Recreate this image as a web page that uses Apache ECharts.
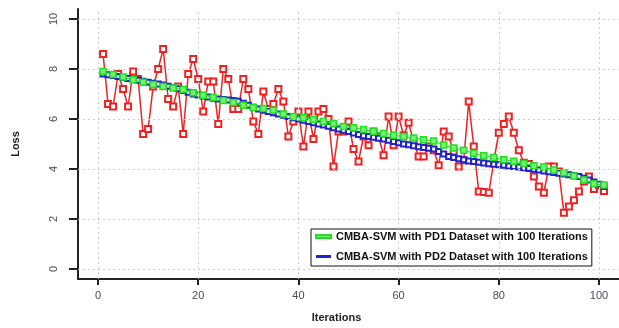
<!DOCTYPE html>
<html>
<head>
<meta charset="utf-8">
<script src="https://cdn.jsdelivr.net/npm/echarts@6/dist/echarts.min.js"></script>
<style>html,body{margin:0;padding:0;background:#fff}#c{width:619px;height:328px}</style>
</head>
<body>
<div id="c"></div>
<script>
// ---- data ----
const xTicks = [0, 20, 40, 60, 80, 100];
const yTicks = [0, 2, 4, 6, 8, 10];

const redIter = [1,2,3,4,5,6,7,8,9,10,11,12,13,14,15,16,17,18,19,20,21,22,23,24,25,26,27,28,29,30,31,32,33,34,35,36,37,38,39,40,41,42,43,44,45,46,47,48,49,50,51,52,53,54,55,56,57,58,59,60,61,62,63,64,65,66,67,68,69,70,71,72,73,74,75,76,77,78,79,80,81,82,83,84,85,86,87,88,89,90,91,92,93,94,95,96,97,98,99,100,101];
const redLoss = [8.6,6.6,6.5,7.8,7.2,6.5,7.9,7.6,5.4,5.6,7.3,8.0,8.8,6.8,6.5,7.3,5.4,7.8,8.4,7.6,6.3,7.5,7.5,5.8,8.0,7.6,6.4,6.4,7.6,7.2,5.9,5.4,7.1,6.4,6.6,7.2,6.7,5.3,5.9,6.3,4.9,6.3,5.2,6.3,6.4,6.0,4.1,5.5,5.5,5.9,4.8,4.3,5.3,4.95,5.5,5.3,4.55,6.1,4.95,6.1,5.35,5.85,5.1,4.5,4.5,4.9,4.75,4.15,5.5,5.3,4.7,4.1,4.35,6.7,4.9,3.1,3.08,3.05,4.3,5.45,5.8,6.1,5.45,4.75,4.25,4.2,3.7,3.3,3.05,4.1,4.1,3.9,2.25,2.5,2.75,3.1,3.5,3.7,3.2,3.35,3.12];

const greenIter = [1,3,5,7,9,11,13,15,17,19,21,23,25,27,29,31,33,35,37,39,41,43,45,47,49,51,53,55,57,59,61,63,65,67,69,71,73,75,77,79,81,83,85,87,89,91,93,95,97,99,101];
const greenLoss = [7.9,7.78,7.68,7.57,7.47,7.38,7.3,7.24,7.18,7.05,6.95,6.86,6.74,6.66,6.55,6.46,6.42,6.35,6.2,6.1,6.05,5.98,5.9,5.82,5.7,5.65,5.58,5.5,5.42,5.35,5.3,5.24,5.17,5.12,4.96,4.84,4.75,4.63,4.53,4.46,4.37,4.31,4.22,4.13,4.08,3.96,3.85,3.72,3.56,3.41,3.36];

const blueIter = redIter;
const blueLoss = [7.80,7.77,7.74,7.70,7.66,7.62,7.58,7.55,7.51,7.47,7.43,7.40,7.36,7.31,7.26,7.21,7.14,7.07,7.00,6.96,6.92,6.88,6.83,6.80,6.78,6.76,6.74,6.71,6.63,6.55,6.47,6.40,6.35,6.30,6.25,6.20,6.15,6.10,6.05,6.00,5.95,5.90,5.85,5.80,5.76,5.71,5.65,5.60,5.55,5.50,5.44,5.38,5.33,5.30,5.27,5.23,5.20,5.15,5.10,5.05,5.00,4.97,4.93,4.89,4.86,4.83,4.80,4.70,4.60,4.50,4.46,4.41,4.37,4.32,4.30,4.27,4.24,4.21,4.19,4.17,4.15,4.12,4.10,4.08,4.05,4.02,3.99,3.96,3.92,3.89,3.86,3.83,3.80,3.77,3.74,3.70,3.63,3.56,3.48,3.39,3.30];

const greenName = 'CMBA-SVM with PD1 Dataset with 100 Iterations';
const blueName = 'CMBA-SVM with PD2 Dataset with 100 Iterations';

// ---- chart ----
const pairs = (xs, ys) => xs.map((x, i) => [x, ys[i]]);
const font = 'Liberation Sans, Arial, sans-serif';
const chart = echarts.init(document.getElementById('c'), null, {renderer: 'canvas'});
chart.setOption({
  animation: false,
  backgroundColor: '#fff',
  grid: {left: 78, top: 9, width: 543, height: 278, containLabel: false},
  xAxis: {
    type: 'value', min: -4, max: 104,
    name: 'Iterations', nameLocation: 'middle', nameGap: 33,
    nameTextStyle: {fontFamily: font, fontSize: 11, fontWeight: 'bold', color: '#222', padding: [0, 24, 0, 0]},
    axisLine: {show: true, onZero: false, lineStyle: {color: '#222', width: 2}},
    axisTick: {show: true, customValues: xTicks, length: 6, lineStyle: {color: '#222', width: 2}},
    axisLabel: {customValues: xTicks, fontFamily: font, fontSize: 11, color: '#4a4a5a', margin: 11},
    splitLine: {show: false}
  },
  yAxis: {
    type: 'value', min: -0.4, max: 10.4,
    name: 'Loss', nameLocation: 'middle', nameGap: 57, nameRotate: 90,
    nameTextStyle: {fontFamily: font, fontSize: 11, fontWeight: 'bold', color: '#222'},
    axisLine: {show: true, onZero: false, lineStyle: {color: '#222', width: 2}},
    axisTick: {show: true, customValues: yTicks, length: 9, lineStyle: {color: '#222', width: 2}},
    axisLabel: {customValues: yTicks, rotate: 90, fontFamily: font, fontSize: 11, color: '#4a4a5a', margin: 19},
    splitLine: {show: false}
  },
  legend: {
    orient: 'vertical', left: 311, top: 229,
    data: [greenName, blueName],
    backgroundColor: '#fff', borderColor: '#111', borderWidth: 1,
    padding: [2, 4, 4, 4], itemGap: 9, itemWidth: 15, itemHeight: 3,
    icon: 'rect',
    textStyle: {fontFamily: font, fontSize: 11, fontWeight: 'bold', color: '#111'}
  },
  series: [
    {
      type: 'line', name: 'grid', data: [], silent: true, z: 0,
      markLine: {
        silent: true, symbol: 'none', label: {show: false},
        lineStyle: {color: '#cfcfcf', type: [2, 3], width: 1},
        data: xTicks.map(v => ({xAxis: v})).concat(yTicks.map(v => ({yAxis: v})))
      }
    },
    {
      type: 'line', name: 'red', data: pairs(redIter, redLoss), z: 2,
      symbol: 'emptyRect', symbolSize: 6,
      itemStyle: {color: '#ee2222', borderWidth: 1.2},
      lineStyle: {color: '#ee2222', width: 1.5}
    },
    {
      type: 'line', name: blueName, data: pairs(blueIter, blueLoss), z: 3,
      symbol: 'emptyRect', symbolSize: 5,
      itemStyle: {color: '#2222cc', borderWidth: 1},
      lineStyle: {color: '#2222cc', width: 1.5}
    },
    {
      type: 'line', name: greenName, data: pairs(greenIter, greenLoss), z: 4,
      symbol: 'rect', symbolSize: 6,
      itemStyle: {color: '#77ee77', borderColor: '#22dd22', borderWidth: 1.5},
      lineStyle: {color: '#33dd33', width: 1.2}
    }
  ]
});
</script>
</body>
</html>
